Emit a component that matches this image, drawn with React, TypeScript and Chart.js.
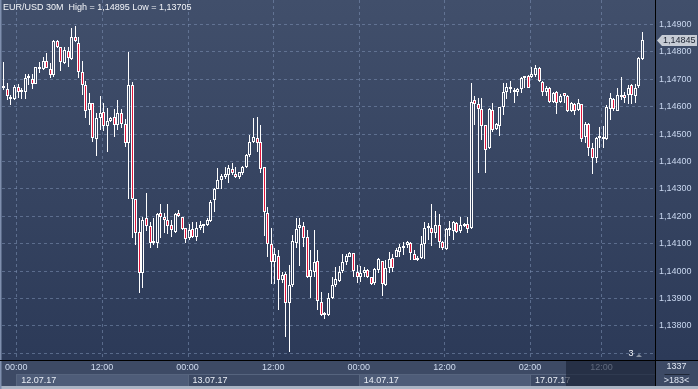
import React, { useEffect, useRef } from 'react';
import { Chart, registerables } from 'chart.js';

Chart.register(...registerables);

// ---- Data (EUR/USD 30M) ----
const opens = [
  1.14668, 1.14664, 1.14635, 1.14628, 1.14671, 1.14653, 1.14653, 1.14704, 1.14701, 1.14682,
  1.14744, 1.14737, 1.14766, 1.14737, 1.14715, 1.14839, 1.14817, 1.14759, 1.14803, 1.14774,
  1.14854, 1.14832, 1.14726, 1.14679, 1.14587, 1.14613, 1.14482, 1.14558, 1.14580, 1.14529,
  1.14547, 1.14562, 1.14533, 1.14577, 1.14536, 1.14467, 1.14679, 1.14263, 1.14142, 1.13993,
  1.14193, 1.14164, 1.14102, 1.14102, 1.14212, 1.14197, 1.14186, 1.14168, 1.14142, 1.14212,
  1.14197, 1.14157, 1.14120, 1.14153, 1.14124, 1.14157, 1.14164, 1.14168, 1.14182, 1.14259,
  1.14299, 1.14332, 1.14343, 1.14350, 1.14372, 1.14354, 1.14343, 1.14358, 1.14379, 1.14423,
  1.14471, 1.14485, 1.14471, 1.14379, 1.14212, 1.14098, 1.14033, 1.14055, 1.13967, 1.13989,
  1.13883, 1.13949, 1.14102, 1.14157, 1.14164, 1.14124, 1.13978, 1.13996, 1.14036, 1.13887,
  1.13839, 1.13839, 1.13901, 1.13949, 1.13963, 1.14000, 1.14033, 1.14051, 1.14066, 1.13996,
  1.13978, 1.13993, 1.14003, 1.13978, 1.13956, 1.14003, 1.14036, 1.13949, 1.14011, 1.14047,
  1.14051, 1.14069, 1.14084, 1.14095, 1.14102, 1.14062, 1.14040, 1.14047, 1.14098, 1.14157,
  1.14157, 1.14139, 1.14168, 1.14106, 1.14080, 1.14149, 1.14146, 1.14175, 1.14146, 1.14164,
  1.14171, 1.14157, 1.14624, 1.14609, 1.14591, 1.14533, 1.14449, 1.14587, 1.14518, 1.14529,
  1.14598, 1.14653, 1.14671, 1.14653, 1.14653, 1.14664, 1.14704, 1.14712, 1.14708, 1.14715,
  1.14741, 1.14690, 1.14653, 1.14668, 1.14617, 1.14653, 1.14617, 1.14650, 1.14639, 1.14584,
  1.14609, 1.14587, 1.14609, 1.14489, 1.14536, 1.14449, 1.14412, 1.14485, 1.14482, 1.14482,
  1.14591, 1.14628, 1.14584, 1.14635, 1.14642, 1.14642, 1.14679, 1.14639, 1.14675, 1.14774,
];
const highs = [
  1.14763, 1.14686, 1.14642, 1.14679, 1.14682, 1.14668, 1.14719, 1.14719, 1.14719, 1.14744,
  1.14763, 1.14781, 1.14796, 1.14759, 1.14843, 1.14843, 1.14817, 1.14817, 1.14817, 1.14887,
  1.14895, 1.14854, 1.14766, 1.14693, 1.14650, 1.14613, 1.14577, 1.14639, 1.14613, 1.14595,
  1.14562, 1.14591, 1.14624, 1.14591, 1.14555, 1.14799, 1.14690, 1.14263, 1.14193, 1.14197,
  1.14285, 1.14179, 1.14193, 1.14212, 1.14244, 1.14212, 1.14244, 1.14186, 1.14212, 1.14222,
  1.14197, 1.14157, 1.14171, 1.14179, 1.14179, 1.14182, 1.14168, 1.14193, 1.14259, 1.14303,
  1.14376, 1.14354, 1.14379, 1.14387, 1.14394, 1.14379, 1.14361, 1.14383, 1.14427, 1.14496,
  1.14558, 1.14562, 1.14533, 1.14379, 1.14233, 1.14157, 1.14084, 1.14076, 1.13996, 1.13996,
  1.14022, 1.14131, 1.14193, 1.14193, 1.14179, 1.14149, 1.14076, 1.14149, 1.14076, 1.13923,
  1.13850, 1.13920, 1.13978, 1.14014, 1.14018, 1.14062, 1.14062, 1.14069, 1.14066, 1.14022,
  1.14018, 1.14014, 1.14007, 1.13978, 1.14011, 1.14047, 1.14036, 1.14040, 1.14069, 1.14062,
  1.14084, 1.14098, 1.14106, 1.14109, 1.14106, 1.14076, 1.14055, 1.14128, 1.14179, 1.14175,
  1.14244, 1.14219, 1.14208, 1.14109, 1.14157, 1.14182, 1.14182, 1.14179, 1.14197, 1.14175,
  1.14197, 1.14686, 1.14639, 1.14631, 1.14631, 1.14533, 1.14595, 1.14613, 1.14540, 1.14598,
  1.14686, 1.14686, 1.14693, 1.14668, 1.14668, 1.14708, 1.14712, 1.14715, 1.14744, 1.14752,
  1.14744, 1.14693, 1.14675, 1.14671, 1.14653, 1.14657, 1.14646, 1.14650, 1.14642, 1.14617,
  1.14613, 1.14628, 1.14609, 1.14544, 1.14540, 1.14467, 1.14489, 1.14525, 1.14529, 1.14606,
  1.14650, 1.14631, 1.14668, 1.14708, 1.14653, 1.14679, 1.14682, 1.14682, 1.14781, 1.14872,
];
const lows = [
  1.14660, 1.14624, 1.14606, 1.14624, 1.14631, 1.14628, 1.14628, 1.14679, 1.14664, 1.14682,
  1.14723, 1.14733, 1.14741, 1.14704, 1.14708, 1.14814, 1.14730, 1.14755, 1.14744, 1.14770,
  1.14836, 1.14704, 1.14642, 1.14558, 1.14533, 1.14471, 1.14420, 1.14514, 1.14511, 1.14434,
  1.14544, 1.14489, 1.14514, 1.14522, 1.14452, 1.14263, 1.14120, 1.14095, 1.13920, 1.13938,
  1.14146, 1.14084, 1.14095, 1.14084, 1.14120, 1.14139, 1.14135, 1.14124, 1.14139, 1.14197,
  1.14149, 1.14102, 1.14113, 1.14120, 1.14109, 1.14149, 1.14139, 1.14164, 1.14179, 1.14215,
  1.14299, 1.14299, 1.14336, 1.14321, 1.14350, 1.14339, 1.14336, 1.14350, 1.14376, 1.14416,
  1.14467, 1.14434, 1.14358, 1.14128, 1.14051, 1.13952, 1.13952, 1.13857, 1.13956, 1.13759,
  1.13705, 1.13941, 1.14084, 1.14018, 1.14087, 1.13974, 1.13901, 1.13978, 1.13857, 1.13836,
  1.13825, 1.13836, 1.13898, 1.13941, 1.13960, 1.13993, 1.14022, 1.14051, 1.13978, 1.13956,
  1.13960, 1.13978, 1.13974, 1.13949, 1.13949, 1.13993, 1.13909, 1.13945, 1.13993, 1.13996,
  1.14051, 1.14051, 1.14058, 1.14084, 1.14040, 1.14040, 1.14036, 1.14044, 1.14044, 1.14113,
  1.14091, 1.14120, 1.14084, 1.14076, 1.14076, 1.14128, 1.14113, 1.14139, 1.14139, 1.14160,
  1.14139, 1.14153, 1.14533, 1.14358, 1.14478, 1.14358, 1.14445, 1.14507, 1.14514, 1.14493,
  1.14569, 1.14628, 1.14650, 1.14613, 1.14639, 1.14650, 1.14668, 1.14668, 1.14704, 1.14708,
  1.14690, 1.14639, 1.14639, 1.14613, 1.14613, 1.14573, 1.14613, 1.14613, 1.14580, 1.14580,
  1.14569, 1.14584, 1.14471, 1.14467, 1.14420, 1.14354, 1.14394, 1.14449, 1.14449, 1.14478,
  1.14551, 1.14584, 1.14584, 1.14624, 1.14613, 1.14609, 1.14609, 1.14613, 1.14668, 1.14770,
];
const closes = [
  1.14675, 1.14639, 1.14628, 1.14671, 1.14653, 1.14657, 1.14704, 1.14708, 1.14682, 1.14744,
  1.14737, 1.14766, 1.14741, 1.14715, 1.14839, 1.14817, 1.14763, 1.14806, 1.14777, 1.14854,
  1.14839, 1.14726, 1.14679, 1.14584, 1.14613, 1.14485, 1.14558, 1.14577, 1.14529, 1.14547,
  1.14558, 1.14533, 1.14577, 1.14536, 1.14467, 1.14679, 1.14263, 1.14139, 1.13993, 1.14186,
  1.14164, 1.14102, 1.14102, 1.14208, 1.14197, 1.14186, 1.14164, 1.14149, 1.14208, 1.14201,
  1.14153, 1.14117, 1.14149, 1.14124, 1.14157, 1.14168, 1.14168, 1.14186, 1.14252, 1.14299,
  1.14332, 1.14347, 1.14354, 1.14376, 1.14358, 1.14343, 1.14361, 1.14379, 1.14423, 1.14471,
  1.14489, 1.14467, 1.14372, 1.14215, 1.14098, 1.14033, 1.14062, 1.13967, 1.13985, 1.13883,
  1.13949, 1.14109, 1.14153, 1.14168, 1.14120, 1.13978, 1.14003, 1.14033, 1.13890, 1.13839,
  1.13847, 1.13901, 1.13949, 1.13971, 1.13996, 1.14033, 1.14055, 1.14066, 1.14000, 1.13978,
  1.13993, 1.14003, 1.13978, 1.13952, 1.14007, 1.14044, 1.13952, 1.14011, 1.14044, 1.14011,
  1.14076, 1.14087, 1.14091, 1.14106, 1.14066, 1.14040, 1.14047, 1.14098, 1.14157, 1.14164,
  1.14139, 1.14168, 1.14106, 1.14084, 1.14153, 1.14149, 1.14179, 1.14142, 1.14168, 1.14168,
  1.14153, 1.14617, 1.14609, 1.14591, 1.14529, 1.14441, 1.14591, 1.14514, 1.14536, 1.14598,
  1.14653, 1.14671, 1.14664, 1.14657, 1.14664, 1.14704, 1.14708, 1.14668, 1.14719, 1.14741,
  1.14693, 1.14653, 1.14668, 1.14617, 1.14650, 1.14613, 1.14639, 1.14639, 1.14584, 1.14613,
  1.14584, 1.14613, 1.14482, 1.14536, 1.14449, 1.14412, 1.14485, 1.14485, 1.14485, 1.14598,
  1.14631, 1.14591, 1.14642, 1.14639, 1.14631, 1.14668, 1.14642, 1.14668, 1.14777, 1.14845,
];

const emptySlots = 3; // free bar slots at the right of the last candle
const timeTickLabels = ['00:00', '12:00', '00:00', '12:00', '00:00', '12:00', '02:00', '12:00'];
const timeTickBars = [4, 28, 52, 76, 100, 124, 148, 168];
const dateLabels = ['12.07.17', '13.07.17', '14.07.17', '17.07.17'];
const dateBars = [4, 52, 100, 148];
const shadedFromBar = 158;
const yMin = 1.136755;
const yMax = 1.149894;
const yStep = 0.001;
const titleText = 'EUR/USD 30M  High = 1,14895 Low = 1,13705';
const totalBarsText = '1337';
const visibleBarsText = '>183<';
const markerText = '3';

const FONT = '9px "Liberation Sans", Arial, sans-serif';
const fmt = (v: number) => v.toFixed(5).replace('.', ',');

export default function App() {
  const ref = useRef<HTMLCanvasElement>(null);

  useEffect(() => {
    document.body.style.margin = '0';
    const canvas = ref.current!;
    const c2d = canvas.getContext('2d')!;
    const bgGrad = c2d.createLinearGradient(0, 0, 0, 360);
    bgGrad.addColorStop(0, '#414f6b');
    bgGrad.addColorStop(1, '#2c3a58');

    const n = closes.length + emptySlots;
    const labels = Array.from({ length: n }, (_, i) => String(i));

    const panelPlugin = {
      id: 'panel',
      beforeDraw(chart: any) {
        const { ctx, chartArea: a } = chart;
        const W = chart.width, H = chart.height;
        ctx.save();
        ctx.fillStyle = '#3d4a65';
        ctx.fillRect(0, 0, W, H);
        ctx.fillStyle = bgGrad;
        ctx.fillRect(0, 0, W, a.bottom);
        ctx.restore();
      },
      beforeDatasetsDraw(chart: any) {
        const { ctx, chartArea: a } = chart;
        const xs = chart.scales.x;
        const step = (a.right - a.left) / n;
        // snap candle elements to whole pixels for crisp rendering
        chart.data.datasets.forEach((_: any, di: number) => {
          const meta = chart.getDatasetMeta(di);
          meta.data.forEach((el: any) => {
            el.x = Math.floor(el.x) + 0.5;
            let y = Math.round(el.y);
            let b = Math.round(el.base);
            if (di === 1 && Math.abs(y - b) < 2) {
              b = y + 2;
            }
            el.y = y;
            el.base = b;
            el.height = b - y;
          });
        });
        ctx.save();
        ctx.strokeStyle = 'rgba(125,145,180,0.55)';
        ctx.lineWidth = 1;
        ctx.setLineDash([3, 3]);
        timeTickBars.forEach((b) => {
          const x = Math.round(xs.getPixelForValue(b) - step / 2) + 0.5;
          ctx.beginPath();
          ctx.moveTo(x, a.top);
          ctx.lineTo(x, a.bottom);
          ctx.stroke();
        });
        ctx.restore();
      },
      afterDraw(chart: any) {
        const { ctx, chartArea: a } = chart;
        const W = chart.width, H = chart.height;
        const xs = chart.scales.x;
        const ys = chart.scales.y;
        const step = (a.right - a.left) / n;
        const gx = (b: number) => xs.getPixelForValue(b) - step / 2;
        const rowTop = a.bottom + 1;
        const dateTop = rowTop + 13;
        const dateBottom = H - 3;
        ctx.save();

        ctx.fillStyle = '#3d4a65';
        ctx.fillRect(0, rowTop, W, H - rowTop);
        dateBars.forEach((b, i) => {
          const x0 = Math.round(gx(b));
          const x1 = i + 1 < dateBars.length ? Math.round(gx(dateBars[i + 1])) : Math.round(a.right);
          if (i % 2 === 0) {
            ctx.fillStyle = '#4e5c78';
            ctx.fillRect(x0, dateTop, x1 - x0, dateBottom - dateTop);
          }
          ctx.fillStyle = '#58667f';
          ctx.fillRect(x0, dateTop, 1, dateBottom - dateTop);
        });
        ctx.fillStyle = '#56647e';
        ctx.fillRect(Math.round(gx(dateBars[0])), dateTop, Math.round(a.right) - Math.round(gx(dateBars[0])), 1);

        ctx.font = FONT;
        ctx.textBaseline = 'middle';
        ctx.fillStyle = '#d0dcf0';
        ctx.textAlign = 'center';
        timeTickBars.forEach((b, i) => {
          ctx.fillText(timeTickLabels[i], gx(b), rowTop + 7);
        });
        ctx.fillStyle = '#e8edf5';
        ctx.textAlign = 'left';
        dateBars.forEach((b, i) => {
          ctx.fillText(dateLabels[i], gx(b) + 5, dateTop + 6.5);
        });
        const sx = Math.round(gx(shadedFromBar));
        ctx.fillStyle = 'rgba(24,33,52,0.62)';
        ctx.fillRect(sx, rowTop, Math.round(a.right) - sx, dateBottom - rowTop);

        ctx.fillStyle = '#aab4c4';
        ctx.fillRect(0, H - 3, W, 3);
        ctx.fillStyle = '#7f8fae';
        ctx.fillRect(0, 0, 1.5, H);

        ctx.fillStyle = '#000000';
        ctx.fillRect(0, Math.round(a.bottom), W, 1);
        ctx.fillRect(Math.round(a.right), 0, 1, H - 3);

        ctx.fillStyle = '#3d4a65';
        ctx.fillRect(Math.round(a.right) + 1, rowTop, W - Math.round(a.right) - 1, H - 3 - rowTop);
        ctx.fillStyle = '#dfe6f2';
        ctx.textAlign = 'center';
        const cx = (Math.round(a.right) + W) / 2;
        ctx.fillText(totalBarsText, cx, rowTop + 6);
        ctx.fillText(visibleBarsText, cx, rowTop + 20);
        ctx.fillStyle = '#1f2737';
        ctx.fillRect(cx - 12, rowTop + 13, 25, 1);

        ctx.textAlign = 'left';
        ctx.fillStyle = '#f2f4f8';
        ctx.fillText(titleText, 3, 8);

        ctx.fillStyle = '#f2f4f8';
        ctx.textAlign = 'center';
        ctx.fillText(markerText, a.right - 24, a.bottom - 6);
        ctx.fillStyle = '#8a93a3';
        ctx.beginPath();
        ctx.moveTo(a.right - 19, a.bottom - 3);
        ctx.lineTo(a.right - 13, a.bottom - 3);
        ctx.lineTo(a.right - 16, a.bottom - 6);
        ctx.closePath();
        ctx.fill();

        const last = closes[closes.length - 1];
        const py = Math.round(ys.getPixelForValue(last)) + 0.5;
        const lx = Math.round(a.right) + 2;
        ctx.fillStyle = '#c7ccd5';
        ctx.beginPath();
        ctx.moveTo(lx, py);
        ctx.lineTo(lx + 5, py - 5.5);
        ctx.lineTo(W - 1, py - 5.5);
        ctx.lineTo(W - 1, py + 5.5);
        ctx.lineTo(lx + 5, py + 5.5);
        ctx.closePath();
        ctx.fill();
        ctx.fillStyle = '#1c2332';
        ctx.textAlign = 'left';
        ctx.fillText(fmt(last), lx + 6, py + 0.5);

        ctx.restore();
      },
    };

    const chart = new Chart(canvas, {
      type: 'bar',
      data: {
        labels,
        datasets: [
          {
            label: 'wick',
            data: lows.map((l, i) => [l, highs[i]]) as any,
            backgroundColor: '#ffffff',
            borderWidth: 0,
            barThickness: 1,
            grouped: false,
            order: 2,
            inflateAmount: 0,
          } as any,
          {
            label: 'body',
            data: opens.map((o, i) => [o, closes[i]]) as any,
            backgroundColor: (c: any) =>
              closes[c.dataIndex] < opens[c.dataIndex] ? '#e2173c' : bgGrad,
            borderColor: '#ffffff',
            borderWidth: 1,
            borderSkipped: false,
            barThickness: 3,
            minBarLength: 2,
            grouped: false,
            order: 1,
            inflateAmount: 0,
          } as any,
        ],
      },
      options: {
        responsive: false,
        animation: false,
        devicePixelRatio: 1,
        events: [],
        layout: { padding: { left: 2, right: 0, top: 0, bottom: 29 } },
        plugins: { legend: { display: false }, tooltip: { enabled: false } },
        scales: {
          x: {
            type: 'category',
            display: false,
            offset: true,
            grid: { display: false },
          },
          y: {
            type: 'linear',
            position: 'right',
            min: yMin,
            max: yMax,
            afterFit: (s: any) => {
              s.width = 43;
              s.paddingTop = 0;
              s.paddingBottom = 0;
            },
            border: { display: false, dash: [3, 3] },
            grid: { color: 'rgba(125,145,180,0.55)', drawTicks: false, lineWidth: 1 },
            ticks: {
              stepSize: yStep,
              includeBounds: false,
              maxTicksLimit: 30,
              autoSkip: false,
              padding: 4,
              color: '#c9d7ef',
              font: { family: '"Liberation Sans", Arial, sans-serif', size: 9 },
              callback: (v: any) => (Number(v) < 1.1375 ? '' : fmt(Number(v))),
            },
          },
        },
      } as any,
      plugins: [panelPlugin],
    });
    return () => chart.destroy();
  }, []);

  return (
    <div style={{ position: 'absolute', left: 0, top: 0, width: 698, height: 389 }}>
      <canvas ref={ref} width={698} height={389} style={{ display: 'block', width: 698, height: 389 }} />
    </div>
  );
}
